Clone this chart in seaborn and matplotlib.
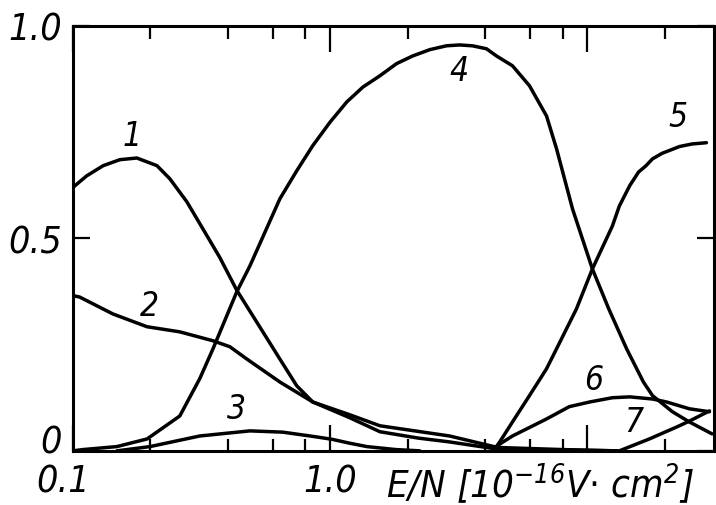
import matplotlib
matplotlib.use("Agg")
import matplotlib.pyplot as plt
from matplotlib import font_manager
from matplotlib.ticker import FixedLocator, NullFormatter, FixedFormatter
from matplotlib.transforms import ScaledTranslation
import pandas as pd
import seaborn as sns

# Reduced field E/N (1e-16 V cm^2) and relative fractions of the seven channels
en_1 = [0.1, 0.113, 0.131, 0.152, 0.177, 0.212, 0.238, 0.277, 0.32, 0.372, 0.433,
        0.547, 0.637, 0.741, 0.855, 1.19, 1.56, 2.2, 2.91, 4.47, 8.0, 13.0]
fr_1 = [0.62, 0.647, 0.671, 0.685, 0.689, 0.671, 0.64, 0.586, 0.522, 0.455, 0.378,
        0.28, 0.216, 0.153, 0.115, 0.078, 0.045, 0.03, 0.021, 0.004, 0.002, 0.0]

en_2 = [0.1, 0.106, 0.143, 0.194, 0.26, 0.35, 0.407, 0.474, 0.637, 0.855, 1.19,
        1.56, 2.91, 4.47, 8.0, 13.0]
fr_2 = [0.365, 0.362, 0.322, 0.292, 0.28, 0.259, 0.245, 0.216, 0.162, 0.115, 0.085,
        0.059, 0.035, 0.008, 0.003, 0.0]

en_3 = [0.148, 0.199, 0.311, 0.487, 0.654, 0.88, 1.02, 1.19, 1.39, 1.8, 2.23]
fr_3 = [0.0, 0.01, 0.035, 0.047, 0.044, 0.033, 0.027, 0.018, 0.01, 0.003, 0.0]

en_4 = [0.1, 0.109, 0.148, 0.194, 0.26, 0.311, 0.35, 0.433, 0.487, 0.637, 0.741,
        0.855, 1.0, 1.16, 1.34, 1.556, 1.81, 2.09, 2.44, 2.83, 3.18, 3.57, 4.05,
        4.43, 5.11, 5.95, 6.93, 7.58, 8.75, 10.45, 12.1, 14.2, 16.5, 17.9, 21.4,
        24.9, 30.5]
fr_4 = [0.0, 0.003, 0.01, 0.028, 0.082, 0.17, 0.24, 0.374, 0.435, 0.593, 0.659,
        0.718, 0.774, 0.821, 0.856, 0.882, 0.911, 0.929, 0.944, 0.953, 0.955, 0.953,
        0.946, 0.929, 0.906, 0.859, 0.788, 0.711, 0.569, 0.428, 0.334, 0.24, 0.162,
        0.13, 0.092, 0.068, 0.04]

en_5 = [4.3, 4.56, 5.11, 5.95, 6.93, 7.58, 9.06, 10.45, 12.5, 13.3, 14.6, 15.8,
        16.9, 17.9, 19.5, 22.8, 25.5, 29.0]
fr_5 = [0.0, 0.021, 0.068, 0.13, 0.193, 0.24, 0.334, 0.428, 0.529, 0.576, 0.624,
        0.656, 0.671, 0.687, 0.700, 0.716, 0.722, 0.725]

en_6 = [4.3, 4.56, 5.11, 6.93, 8.5, 10.2, 12.5, 14.6, 17.9, 20.3, 24.9, 29.8]
fr_6 = [0.0, 0.016, 0.035, 0.075, 0.104, 0.115, 0.125, 0.127, 0.122, 0.115, 0.099,
        0.092]

en_7 = [4.5, 13.3, 17.4, 22.2, 24.9, 29.8]
fr_7 = [0.0, 0.0, 0.028, 0.056, 0.07, 0.094]

curve_names = ["1", "2", "3", "4", "5", "6", "7"]
# where each curve number is written (E/N, fraction)
name_en = [0.169, 0.199, 0.433, 3.18, 22.4, 10.6, 15.2]
name_fr = [0.741, 0.341, 0.099, 0.894, 0.786, 0.169, 0.068]

x_ticks = [0.1, 1.0, 10.0]
x_tick_labels = ["0.1", "1.0", ""]
x_minor = [0.2, 0.4, 0.6, 0.8, 2, 4, 6, 8, 20]
y_ticks = [0.0, 0.5, 1.0]
y_tick_labels = ["0", "0.5", "1.0"]
x_label = r"E/N [10$^{-16}$V$\cdot$ cm$^{2}$]"

sns.set_style("ticks")

# pick the narrowest available sans face for the lettering
fonts = font_manager.fontManager.ttflist
names = {f.name for f in fonts}
stretch = "normal"
if "Liberation Sans Narrow" in names:
    family, tick_fs, lab_fs, num_fs = "Liberation Sans Narrow", 30, 29, 26
elif any(f.name == "DejaVu Sans" and f.stretch == "condensed" for f in fonts):
    family, tick_fs, lab_fs, num_fs = "DejaVu Sans", 27, 27.5, 24
    stretch = "condensed"
elif "Liberation Sans" in names:
    family, tick_fs, lab_fs, num_fs = "Liberation Sans", 26, 25, 23
else:
    family, tick_fs, lab_fs, num_fs = "DejaVu Sans", 24, 23, 22

plt.rcParams["font.family"] = [family, "DejaVu Sans"]
plt.rcParams["font.style"] = "italic"
plt.rcParams["font.stretch"] = stretch
plt.rcParams["mathtext.fontset"] = "custom"
plt.rcParams["mathtext.rm"] = f"{family}:italic"
plt.rcParams["mathtext.it"] = f"{family}:italic"
for key in ["text.color", "axes.labelcolor", "xtick.color", "ytick.color",
            "axes.edgecolor"]:
    plt.rcParams[key] = "black"

df = pd.concat([
    pd.DataFrame({"en": e, "frac": f, "curve": n})
    for e, f, n in zip([en_1, en_2, en_3, en_4, en_5, en_6, en_7],
                       [fr_1, fr_2, fr_3, fr_4, fr_5, fr_6, fr_7], curve_names)
], ignore_index=True)

fig = plt.figure(figsize=(7.16, 5.06), dpi=100)
ax = fig.add_axes([0.102, 0.107, 0.895, 0.840])
ax.set_xscale("log")

for name in curve_names:
    sub = df[df["curve"] == name]
    sns.lineplot(data=sub, x="en", y="frac", ax=ax, color="black", lw=2.5,
                 sort=False, estimator=None, legend=False)

for n, xe, yf in zip(curve_names, name_en, name_fr):
    ax.text(xe, yf, n, fontsize=num_fs, ha="center", va="center", style="italic")

ax.set_xlim(0.1, 31)
ax.set_ylim(0, 1.0)

ax.xaxis.set_major_locator(FixedLocator(x_ticks))
ax.xaxis.set_major_formatter(FixedFormatter(x_tick_labels))
ax.xaxis.set_minor_locator(FixedLocator(x_minor))
ax.xaxis.set_minor_formatter(NullFormatter())
ax.set_yticks(y_ticks)
ax.set_yticklabels(y_tick_labels)

ax.tick_params(axis="x", which="major", direction="in", length=19, width=1.6,
               top=True, bottom=True, labelsize=tick_fs, pad=9)
ax.tick_params(axis="x", which="minor", direction="in", length=9, width=1.6,
               top=True, bottom=True)
ax.tick_params(axis="y", which="major", direction="in", length=12, width=1.6,
               left=True, right=True, labelsize=tick_fs, pad=8)

for lab in ax.get_xticklabels() + ax.get_yticklabels():
    lab.set_style("italic")
    lab.set_color("black")

# the zero on the fraction axis sits slightly above the baseline,
# the 0.1 label slightly left of its tick
zero_lab = ax.get_yticklabels()[0]
zero_lab.set_transform(zero_lab.get_transform() +
                       ScaledTranslation(0, 12 / 100, fig.dpi_scale_trans))
first_x = ax.get_xticklabels()[0]
first_x.set_transform(first_x.get_transform() +
                      ScaledTranslation(-10 / 100, 0, fig.dpi_scale_trans))

for sp in ax.spines.values():
    sp.set_visible(True)
    sp.set_linewidth(2.2)
    sp.set_color("black")

ax.set_xlabel("")
ax.set_ylabel("")
ax.text(0.488, -0.022, x_label, transform=ax.transAxes, fontsize=lab_fs,
        ha="left", va="top", style="italic")

fig.savefig("out.png", dpi=100, facecolor="white")
